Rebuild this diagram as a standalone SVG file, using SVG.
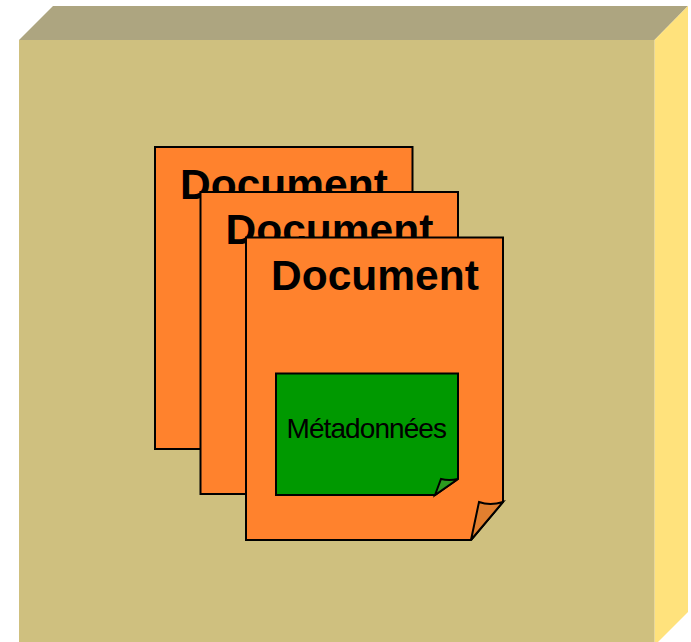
<svg xmlns="http://www.w3.org/2000/svg" width="691" height="642" viewBox="0 0 691 642">
<style>
.doc{fill:#FF822D;stroke:#000;stroke-width:2;stroke-linejoin:miter}
.title{font-family:"Liberation Sans",Arial,sans-serif;font-weight:bold;font-size:42.5px;fill:#000}
.meta{font-family:"Liberation Sans",Arial,sans-serif;font-size:28px;fill:#000}
.ln{stroke:#000;stroke-width:2;stroke-linejoin:miter}
</style>
<rect width="691" height="642" fill="#fff"/>
<g id="box">
<polygon points="19,40 53,6 688,6 654.5,40" fill="#ADA580"/>
<polygon points="654.5,40 688,6 688,612 658,642 654.5,642" fill="#FFE27C"/>
<rect x="19" y="40" width="635.5" height="602" fill="#CFC07F"/>
</g>
<g id="doc1">
<rect class="doc" x="155" y="147" width="257.5" height="302"/>
<text class="title" x="180" y="199">Document</text>
</g>
<g id="doc2">
<rect class="doc" x="200.5" y="192" width="257.5" height="302"/>
<text class="title" x="225.5" y="244">Document</text>
</g>
<g id="doc3">
<polygon class="doc" points="246,237.500 503,237.500 503,502 471,540 246,540"/>
<path class="ln" d="M471,540 L479,502 Q490,506 503,502 Z" fill="#E27F2F"/>
<text class="title" x="271" y="289.500">Document</text>
</g>
<g id="metadata">
<polygon class="ln" points="276,373.500 458,373.500 458,479 435,495 276,495" fill="#009900"/>
<path class="ln" d="M435,495 L441,479 Q449,481 458,479 Z" fill="#2C9A1F"/>
<text class="meta" x="286.500" y="438" textLength="160.500" lengthAdjust="spacing">Métadonnées</text>
</g>
<g id="connectors"/>
</svg>
